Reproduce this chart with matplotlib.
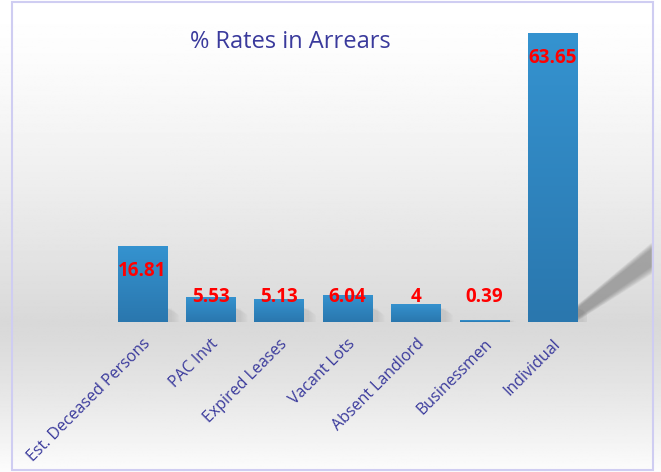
import numpy as np
import matplotlib
matplotlib.use('Agg')
import matplotlib.pyplot as plt
from matplotlib.patches import Rectangle, Polygon
from matplotlib.colors import LinearSegmentedColormap

categories = ['Est. Deceased Persons', 'PAC Invt', 'Expired Leases', 'Vacant Lots',
              'Absent Landlord', 'Businessmen', 'Individual']
rates = [16.81, 5.53, 5.13, 6.04, 4, 0.39, 63.65]
labels = ['16.81', '5.53', '5.13', '6.04', '4', '0.39', '63.65']

plt.rcParams['font.family'] = ['Open Sans', 'DejaVu Sans']
text_col = '#3a3a9c'

fig = plt.figure(figsize=(6.61, 4.72), dpi=100)

# background: white -> grey at the baseline -> white at the bottom
bg = fig.add_axes([0, 0, 1, 1], zorder=0)
bg.set_axis_off()
base_frac = 1 - 322 / 472
yy = np.linspace(0, 1, 400)
shade = np.where(yy > base_frac,
                 1 - 0.15 * (1 - (yy - base_frac) / (1 - base_frac)) ** 1.4,
                 0.85 + 0.14 * (1 - yy / base_frac) ** 1.3)
img = np.repeat(shade[:, None], 2, axis=1)
bg.imshow(img, cmap='gray', vmin=0, vmax=1, aspect='auto', origin='lower',
          extent=[0, 1, 0, 1])
border_right = 653 / 661
bg.add_patch(Rectangle((12 / 661, 0.004), border_right - 12 / 661, 0.992, fill=False,
                       edgecolor='#cfcdf2', lw=1.5, zorder=5))
bg.set_xlim(0, 1)
bg.set_ylim(0, 1)

ax = fig.add_axes([108 / 661, base_frac, 479 / 661, 318 / 472], zorder=1)
ax.patch.set_alpha(0)
x = np.arange(len(categories))
bars = ax.bar(x, rates, width=0.72, color='#2f86c3', zorder=3)

ax.set_xlim(-0.5, len(categories) - 0.5)
ax.set_ylim(0, 70)

# vertical gradient inside each bar
grad = np.linspace(0, 1, 100)[:, None]
cm = LinearSegmentedColormap.from_list('b', ['#2a77ae', '#3593d0'])
for b in bars:
    x0, w, h = b.get_x(), b.get_width(), b.get_height()
    im = ax.imshow(grad, cmap=cm, aspect='auto', origin='lower',
                   extent=[x0, x0 + w, 0, h], zorder=4)
    im.set_clip_path(b)
    # soft shadow at the foot of each bar
    for k in range(6):
        ax.add_patch(Polygon([[x0 + w, 0], [x0 + w + 0.08 + 0.02 * k, 0],
                              [x0 + w + 0.08 + 0.02 * k, min(h, 3) - 0.3 * k],
                              [x0 + w, min(h, 3)]],
                             closed=True, color='#888888', alpha=0.04, lw=0, zorder=2))

# long diagonal shadow behind the tallest bar, ending at the chart border
ax_l, ax_r = ax.get_position().x0, ax.get_position().x1
xlo, xhi = ax.get_xlim()
x_end = xlo + (border_right - 0.002 - ax_l) / (ax_r - ax_l) * (xhi - xlo)
xi = bars[-1].get_x() + bars[-1].get_width()
for k in range(14):
    d = 0.25 * k
    ax.add_patch(Polygon([[xi, 0.2 + d * 0.25], [x_end, 10.5 + d * 0.55],
                          [x_end, 17.5 - d * 0.45], [xi, 3.8 - d * 0.25]],
                         closed=True, color='#707070', alpha=0.05, lw=0, zorder=2,
                         clip_on=False))

for xi_, v, lab in zip(x, rates, labels):
    ax.text(xi_, max(v - 5.5, 5.5), lab, ha='center', va='center', color='#ff0000',
            fontsize=13.5, fontweight='bold', zorder=6)

ax.set_xticks(x)
ax.set_xticklabels(categories, rotation=45, ha='right', rotation_mode='anchor',
                   color=text_col, fontsize=11.5)
ax.tick_params(axis='x', length=0, pad=10)
ax.set_yticks([])
for s in ax.spines.values():
    s.set_visible(False)

fig.text(290 / 661, 1 - 42 / 472, '% Rates in Arrears', ha='center', va='center',
         color=text_col, fontsize=17)

fig.savefig('out.png', dpi=100)
